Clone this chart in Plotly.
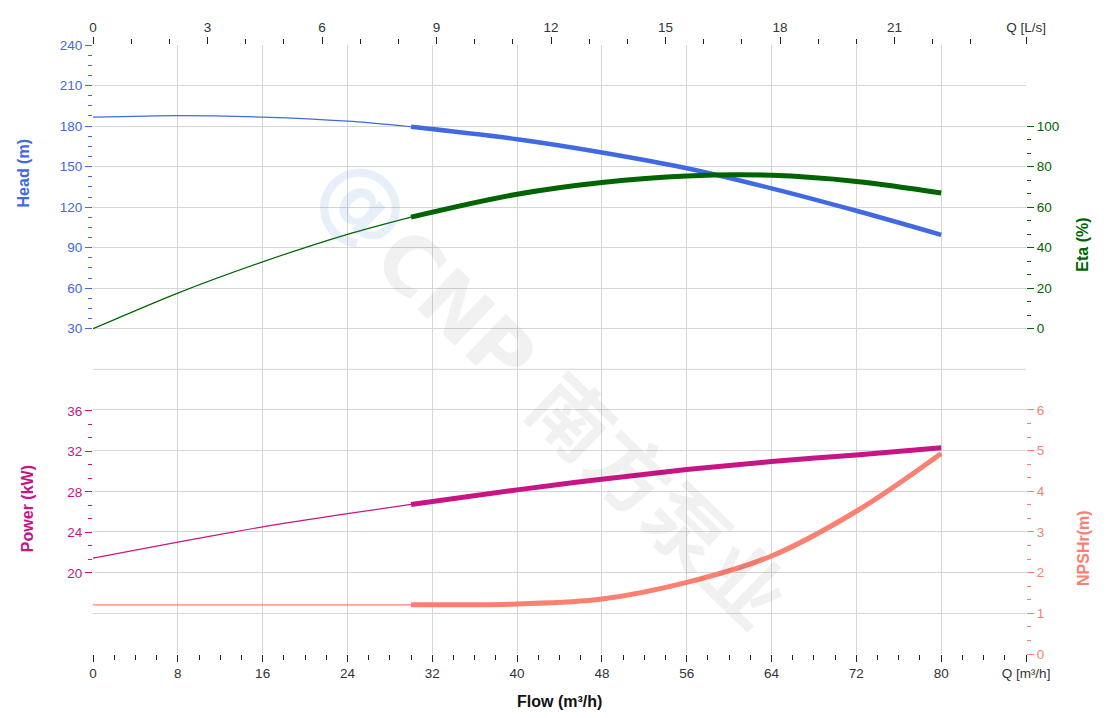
import plotly.graph_objects as go

# ── Data ───────────────────────────────────────────────────────────────────────
flow = [0, 8, 16, 24, 30, 40, 48, 56, 64, 72, 80]          # m³/h
head = [186.6, 187.8, 186.6, 183.6, 179.5, 170.3, 160.5, 148.8, 133.9, 117.3, 99.5]
eta = [0.0, 17.6, 33.0, 46.6, 55.1, 66.4, 72.2, 75.4, 75.7, 72.7, 67.0]
power = [21.46, 23.05, 24.55, 25.85, 26.76, 28.2, 29.25, 30.2, 31.0, 31.65, 32.36]
npshr = [1.21, 1.21, 1.21, 1.21, 1.21, 1.23, 1.35, 1.76, 2.41, 3.51, 4.93]
split = 4  # index of the 30 m³/h point where the operating range starts

flow_ticks = [0, 8, 16, 24, 32, 40, 48, 56, 64, 72, 80]
ls_ticks = [0, 3, 6, 9, 12, 15, 18, 21]
head_ticks = [30, 60, 90, 120, 150, 180, 210, 240]
eta_ticks = [0, 20, 40, 60, 80, 100]
power_ticks = [20, 24, 28, 32, 36]
npsh_ticks = [0, 1, 2, 3, 4, 5, 6]

# ── Style ──────────────────────────────────────────────────────────────────────
C_HEAD = "#4169E1"
C_ETA = "#006400"
C_POWER = "#C71585"
C_NPSH = "#FA8072"
GRID = "#d6d6d6"
FONT = "Liberation Sans, Arial, sans-serif"
FLOW_MAX = 88
SPLIT_Y = 0.4675


def curve(fig, y, color, xa, ya, thin=1.2, thick=4.5):
    fig.add_trace(go.Scatter(x=flow[:split + 1], y=y[:split + 1], mode="lines",
                             line=dict(color=color, width=thin, shape="spline", smoothing=0.8),
                             xaxis=xa, yaxis=ya, showlegend=False, hoverinfo="skip"))
    fig.add_trace(go.Scatter(x=flow[split:], y=y[split:], mode="lines",
                             line=dict(color=color, width=thick, shape="spline"),
                             xaxis=xa, yaxis=ya, showlegend=False))


def yax(color, ticks, minor_vals, rng, **kw):
    return dict(range=rng, tickmode="array", tickvals=ticks, ticks="outside",
                ticklen=7, tickcolor=color, tickfont=dict(color=color, size=13.5),
                minor=dict(tickvals=minor_vals, ticks="outside", ticklen=4, tickcolor=color),
                showline=False, zeroline=False, **kw)


fig = go.Figure()
curve(fig, head, C_HEAD, "x", "y")
curve(fig, eta, C_ETA, "x", "y2", thick=5)
curve(fig, power, C_POWER, "x", "y3", thick=5)
curve(fig, npshr, C_NPSH, "x", "y4", thick=5)
# dummy trace so the L/s axis is drawn
fig.add_trace(go.Scatter(x=[0, FLOW_MAX / 3.6], y=[None, None], xaxis="x2", yaxis="y",
                         showlegend=False, hoverinfo="skip"))

fig.update_layout(
    width=1120, height=718,
    paper_bgcolor="white", plot_bgcolor="white",
    font=dict(family=FONT, color="#333", size=13.5),
    margin=dict(l=85, r=102, t=30, b=72),
    xaxis=dict(range=[0, FLOW_MAX], domain=[0, 1], anchor="y3",
               tickmode="array", tickvals=flow_ticks + [FLOW_MAX],
               ticktext=[str(v) for v in flow_ticks] + ["Q [m³/h]"],
               ticks="outside", ticklen=7, tickcolor="#222",
               minor=dict(tickvals=[v for v in range(2, 88, 2) if v % 8], ticks="outside",
                          ticklen=5, tickcolor="#222"),
               showgrid=True, gridcolor=GRID, gridwidth=1, zeroline=False, showline=False),
    xaxis2=dict(range=[0, FLOW_MAX / 3.6], overlaying="x", side="top", anchor="y",
                tickmode="array", tickvals=ls_ticks + [FLOW_MAX / 3.6],
                ticktext=[str(v) for v in ls_ticks] + ["Q [L/s]"],
                ticks="outside", ticklen=7, tickcolor="#222",
                minor=dict(tickvals=[v for v in range(1, 24) if v % 3], ticks="outside",
                           ticklen=5, tickcolor="#222"),
                showgrid=False, zeroline=False, showline=False),
    yaxis=yax(C_HEAD, head_ticks, [30 + 7.5 * i for i in range(29) if i % 4],
              [0, 240], domain=[SPLIT_Y, 1], anchor="x", side="left",
              showgrid=True, gridcolor=GRID),
    yaxis2=yax(C_ETA, eta_ticks, [20 / 3 * i for i in range(16) if i % 3],
               [-20, 140], overlaying="y", side="right", anchor="x", showgrid=False),
    yaxis3=yax(C_POWER, power_ticks, [20 + 4 / 3 * i for i in range(13) if i % 3],
               [12, 40.1], domain=[0, SPLIT_Y], anchor="x", side="left", showgrid=False),
    yaxis4=yax(C_NPSH, npsh_ticks, [i / 3 for i in range(19) if i % 3],
               [0, 7], overlaying="y3", side="right", anchor="x",
               showgrid=True, gridcolor=GRID),
)

# divider between the two panels
fig.add_shape(type="line", xref="paper", yref="paper", x0=0, x1=1, y0=SPLIT_Y, y1=SPLIT_Y,
              line=dict(color=GRID, width=1), layer="below")

titles = [
    ("Head (m)", -0.074, 0.789, C_HEAD),
    ("Power (kW)", -0.070, 0.239, C_POWER),
    ("Eta (%)", 1.061, 0.672, C_ETA),
    ("NPSHr(m)", 1.061, 0.174, C_NPSH),
]
for text, x, y, color in titles:
    fig.add_annotation(text=f"<b>{text}</b>", x=x, y=y, xref="paper", yref="paper",
                       xanchor="center", yanchor="middle",
                       textangle=-90, showarrow=False, font=dict(size=16, color=color))
fig.add_annotation(text="<b>Flow (m³/h)</b>", x=0.5005, y=-0.078, xref="paper", yref="paper",
                   xanchor="center", yanchor="middle",
                   showarrow=False, font=dict(size=16, color="#111"))

# watermark
fig.add_annotation(text="<b>CNP 南方泵业</b>", x=0.522, y=0.37, xref="paper", yref="paper",
                   xanchor="center", yanchor="middle", textangle=44, showarrow=False,
                   font=dict(size=80, color="rgba(0,0,0,0.055)",
                             family="DejaVu Sans, Noto Sans CJK SC, sans-serif"))
fig.add_annotation(text="<b>@</b>", x=0.2915, y=0.742, xref="paper", yref="paper",
                   xanchor="center", yanchor="middle", textangle=45, showarrow=False,
                   font=dict(size=90, color="rgba(70,140,210,0.13)",
                             family="DejaVu Sans, sans-serif"))

fig.write_html("out.html")
